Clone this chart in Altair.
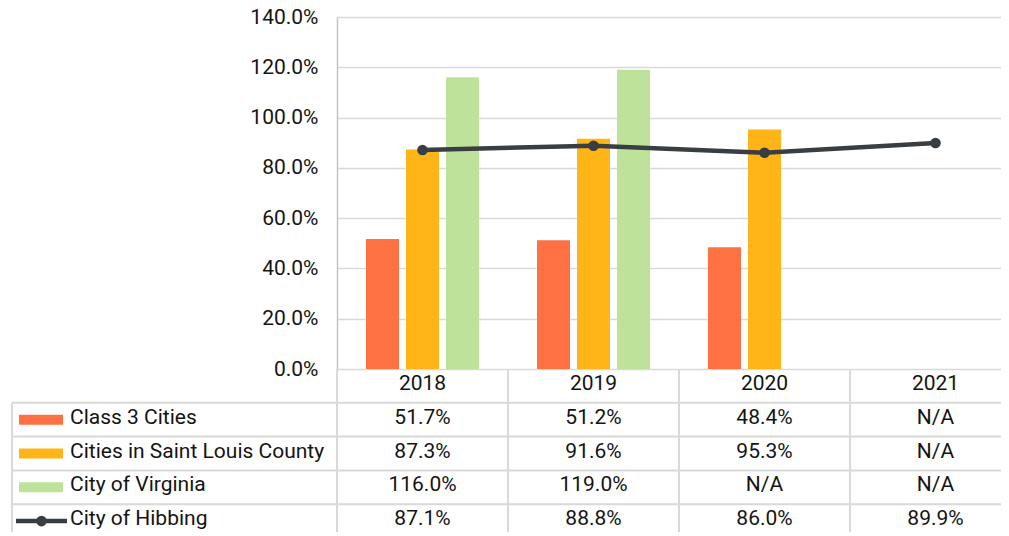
import altair as alt
import pandas as pd

# ---------------- data ----------------
years = ["2018", "2019", "2020", "2021"]
series = ["Class 3 Cities", "Cities in Saint Louis County", "City of Virginia", "City of Hibbing"]
class3_cities = [51.7, 51.2, 48.4, None]
saint_louis_county = [87.3, 91.6, 95.3, None]
city_of_virginia = [116.0, 119.0, None, None]
city_of_hibbing = [87.1, 88.8, 86.0, 89.9]
y_ticks = [0, 20, 40, 60, 80, 100, 120, 140]

colors = ["#FF7043", "#FFB517", "#BFE29B", "#393E42"]

# ---------------- layout / style constants ----------------
FONT = "Roboto"
FS = 21
TXT = "#141414"
GRID = "#D9D9D9"
PLOT_W, PLOT_H = 664, 352
COL_W = 171.0
ROW_H = 33.8
N_ROWS = 5
BAR_W = 33
BAR_STEP = 40 / COL_W
offsets = {series[0]: -BAR_STEP, series[1]: 0.0, series[2]: BAR_STEP}
LEFT = -325 / COL_W          # left border of the table
SW_L, SW_R = -318 / COL_W, -274 / COL_W   # bar swatches
LN_L, LN_R = -321 / COL_W, -270 / COL_W   # line swatch
DOT_X = -295.5 / COL_W
TEXT_X = -267 / COL_W
TDY = -2

values_by_series = dict(zip(series, [class3_cities, saint_louis_county, city_of_virginia, city_of_hibbing]))

recs = []
for si, s in enumerate(series):
    for yi, yr in enumerate(years):
        v = values_by_series[s][yi]
        recs.append(dict(series=s, year=yr,
                         xc=yi + 0.5 + offsets.get(s, 0.0),
                         xm=yi + 0.5,
                         value=v,
                         label=(f"{v:.1f}%" if v is not None else "N/A"),
                         row=si + 1.5))
df = pd.DataFrame(recs)
bars_df = df[df.series.isin(series[:3]) & df.value.notna()]
line_df = df[df.series == series[3]]
header_df = pd.DataFrame({"year": years, "xm": [i + 0.5 for i in range(len(years))], "row": 0.5})
names_df = pd.DataFrame({"series": series, "row": [i + 1.5 for i in range(len(series))]})

xmax = PLOT_W / COL_W
hl_df = pd.DataFrame({"r": [1, 2, 3, 4, 5], "x0": LEFT, "x1": 4.0})
vl_df = pd.DataFrame({"x": [LEFT, 0, 1, 2, 3, 4], "r0": [1, 0, 0, 0, 0, 0], "r1": N_ROWS})

xs = alt.Scale(domain=[0, xmax], nice=False, zero=False, padding=0)
ys = alt.Scale(domain=[0, 140], nice=False, zero=True)
ts = alt.Scale(domain=[0, N_ROWS], range=[PLOT_H, PLOT_H + N_ROWS * ROW_H], nice=False, zero=False)
cs = alt.Scale(domain=series, range=colors)

# ---------------- chart part ----------------
bars = alt.Chart(bars_df).mark_bar(size=BAR_W, orient="vertical").encode(
    x=alt.X("xc:Q", scale=xs, axis=None),
    y=alt.Y("value:Q", scale=ys,
            axis=alt.Axis(values=y_ticks, labelExpr="format(datum.value, '.1f') + '%'",
                          title=None, grid=True, gridColor=GRID, gridWidth=1.5,
                          domain=True, domainColor="#C4C4C4", domainWidth=1.5,
                          ticks=False, labelPadding=19, labelFont=FONT,
                          labelFontSize=FS, labelColor=TXT)),
    color=alt.Color("series:N", scale=cs, legend=None),
)
line = alt.Chart(line_df).mark_line(color=colors[3], strokeWidth=4.5).encode(
    x=alt.X("xm:Q", scale=xs, axis=None),
    y=alt.Y("value:Q", scale=ys),
)
pts = alt.Chart(line_df).mark_point(filled=True, size=113, opacity=1, color=colors[3]).encode(
    x=alt.X("xm:Q", scale=xs, axis=None),
    y=alt.Y("value:Q", scale=ys),
)
plot_part = alt.layer(bars, line, pts)

# ---------------- data table part ----------------
hrules = alt.Chart(hl_df).mark_rule(color=GRID, strokeWidth=2).encode(
    x=alt.X("x0:Q", scale=xs, axis=None), x2="x1:Q",
    y=alt.Y("r:Q", scale=ts, axis=None),
)
vrules = alt.Chart(vl_df).mark_rule(color=GRID, strokeWidth=2).encode(
    x=alt.X("x:Q", scale=xs, axis=None),
    y=alt.Y("r0:Q", scale=ts, axis=None), y2="r1:Q",
)
header = alt.Chart(header_df).mark_text(font=FONT, fontSize=FS, color=TXT, align="center", baseline="middle", dy=TDY).encode(
    x=alt.X("xm:Q", scale=xs, axis=None),
    y=alt.Y("row:Q", scale=ts, axis=None),
    text="year:N",
)
cells = alt.Chart(df).mark_text(font=FONT, fontSize=FS, color=TXT, align="center", baseline="middle", dy=TDY).encode(
    x=alt.X("xm:Q", scale=xs, axis=None),
    y=alt.Y("row:Q", scale=ts, axis=None),
    text="label:N",
)
names = alt.Chart(names_df).mark_text(font=FONT, fontSize=FS, color=TXT, align="left", baseline="middle", dy=TDY).encode(
    x=alt.XDatum(TEXT_X),
    y=alt.Y("row:Q", scale=ts, axis=None),
    text="series:N",
)
swatches = alt.Chart(names_df[names_df.series.isin(series[:3])]).transform_calculate(
    y0="datum.row - 0.148", y1="datum.row + 0.148"
).mark_rect().encode(
    x=alt.XDatum(SW_L), x2=alt.X2Datum(SW_R),
    y=alt.Y("y0:Q", scale=ts, axis=None), y2="y1:Q",
    color=alt.Color("series:N", scale=cs, legend=None),
)
line_sw = alt.Chart(names_df[names_df.series == series[3]]).mark_rule(color=colors[3], strokeWidth=4.5).encode(
    x=alt.XDatum(LN_L), x2=alt.X2Datum(LN_R),
    y=alt.Y("row:Q", scale=ts, axis=None),
)
dot_sw = alt.Chart(names_df[names_df.series == series[3]]).mark_point(filled=True, size=113, opacity=1, color=colors[3]).encode(
    x=alt.XDatum(DOT_X),
    y=alt.Y("row:Q", scale=ts, axis=None),
)
table_part = alt.layer(hrules, vrules, header, cells, names, swatches, line_sw, dot_sw)

chart = alt.layer(plot_part, table_part).resolve_scale(y="independent").properties(
    width=PLOT_W, height=PLOT_H,
    autosize=alt.AutoSizeParams(type="none"),
    padding={"left": 329, "top": 9, "right": 0, "bottom": 163},
).configure_view(stroke=None)

chart.save("out.html", embed_options={"renderer": "svg", "actions": False})
